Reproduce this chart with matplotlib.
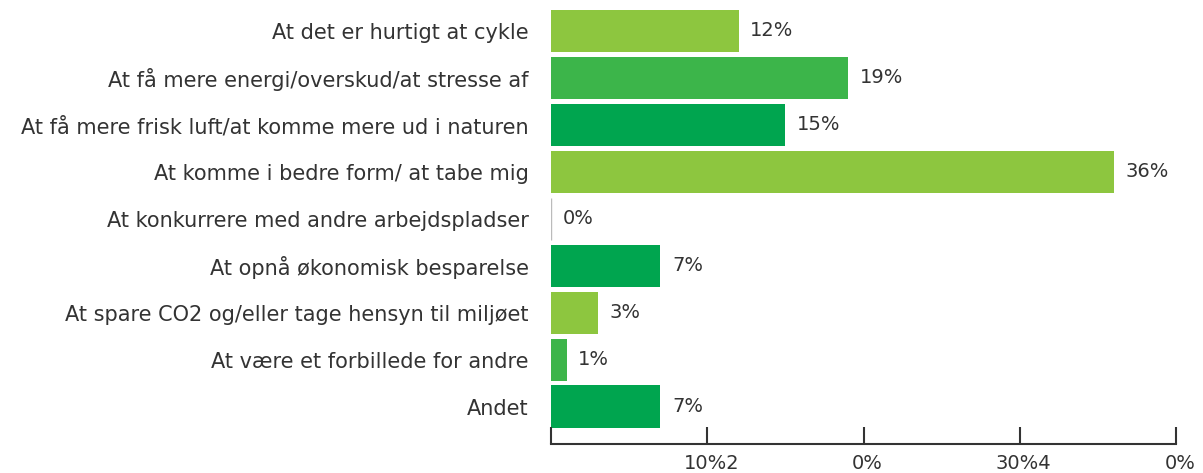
import matplotlib
matplotlib.use("Agg")
import matplotlib.pyplot as plt
from matplotlib.transforms import ScaledTranslation

categories = [
    "At det er hurtigt at cykle",
    "At få mere energi/overskud/at stresse af",
    "At få mere frisk luft/at komme mere ud i naturen",
    "At komme i bedre form/ at tabe mig",
    "At konkurrere med andre arbejdspladser",
    "At opnå økonomisk besparelse",
    "At spare CO2 og/eller tage hensyn til miljøet",
    "At være et forbillede for andre",
    "Andet",
]
values = [12, 19, 15, 36, 0, 7, 3, 1, 7]
value_labels = ["12%", "19%", "15%", "36%", "0%", "7%", "3%", "1%", "7%"]
xticks = [0, 10, 20, 30, 40]
xtick_labels = ["", "10%2", "0%", "30%4", "0%"]

palette = ["#8DC63F", "#3CB54A", "#00A54F"]
colors = [palette[i % 3] for i in range(len(values))]

plt.rcParams["font.family"] = ["DejaVu Sans"]
fig = plt.figure(figsize=(12.03, 4.73), dpi=100)
ax = fig.add_axes([551/1203, 1 - 444/473, (1176-551)/1203, (444-7)/473])

ypos = list(range(len(categories)))
for y, v, c in zip(ypos, values, colors):
    if v == 0:
        ax.barh(y, v, height=0.91, color="white", edgecolor="#bbbbbb", linewidth=1)
    else:
        ax.barh(y, v, height=0.91, color=c, linewidth=0)

for y, v, t in zip(ypos, values, value_labels):
    ax.text(v + 0.75, y, t, va="center", ha="left", fontsize=14, color="#333333")

ax.set_xlim(0, 40)
ax.set_ylim(8.79, -0.51)
ax.set_yticks(ypos)
ax.set_yticklabels(categories, fontsize=15, color="#333333")
ax.tick_params(axis="y", length=0, pad=16)
ax.set_xticks(xticks)
ax.set_xticklabels(xtick_labels, fontsize=14, color="#333333")
ax.tick_params(axis="x", direction="in", length=12, width=1.5, color="#333333", pad=7)
offset = ScaledTranslation(4/100, 0, fig.dpi_scale_trans)
for lbl in ax.get_xticklabels():
    lbl.set_transform(lbl.get_transform() + offset)
for s in ["top", "right", "left"]:
    ax.spines[s].set_visible(False)
ax.spines["bottom"].set_color("#333333")
ax.spines["bottom"].set_linewidth(1.5)

fig.savefig("out.png", dpi=100)
